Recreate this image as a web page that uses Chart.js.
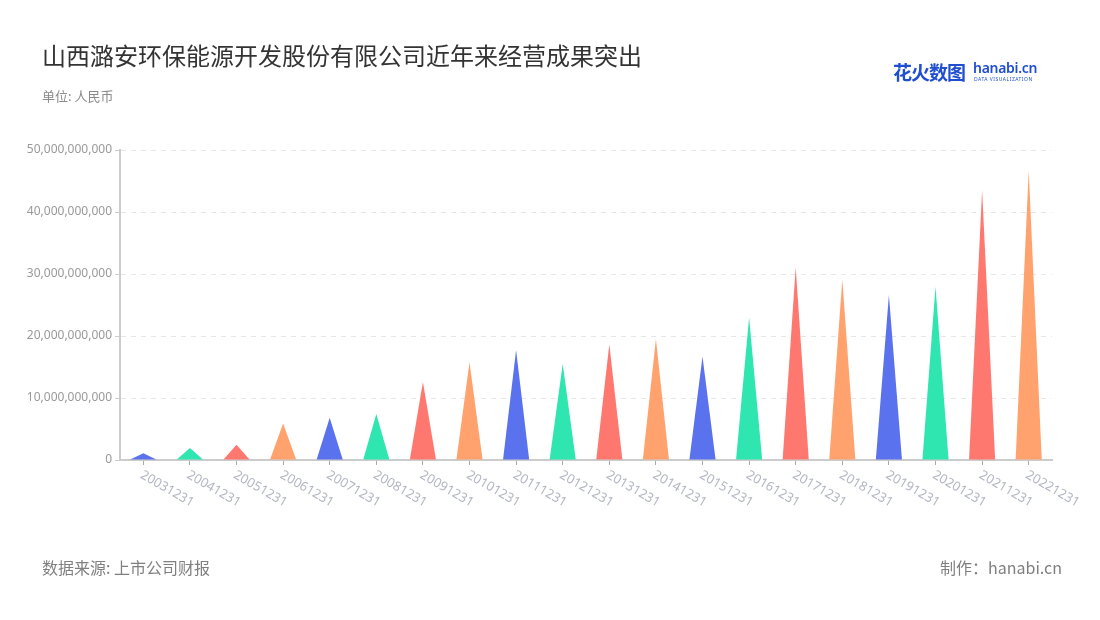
<!DOCTYPE html>
<html>
<head>
<meta charset="utf-8">
<script src="https://cdn.jsdelivr.net/npm/chart.js@4"></script>
<style>
  body { margin: 0; background: #fff; font-family: "Noto Sans CJK SC", "Noto Sans", sans-serif; }
  #wrap { position: relative; width: 1100px; height: 620px; overflow: hidden; }
  #chart { position: absolute; left: 0; top: 0; }
  .txt { position: absolute; white-space: nowrap; }
  #title { left: 42px; top: 37px; font-size: 24px; color: #333; }
  #unit { left: 42px; top: 86px; font-size: 13px; color: #8a8a8a; }
  #source { left: 42px; top: 555px; font-size: 16px; color: #7f7f7f; }
  #maker { right: 38px; top: 555px; font-size: 16px; color: #7f7f7f; }
  #logo { left: 893px; top: 58px; color: #1f4fd0; }
  #logo .cn { font-size: 19px; font-weight: bold; letter-spacing: -1px; }
  #logo .en { position: absolute; left: 80px; top: 1px; font-family: "Noto Sans", sans-serif; font-size: 14px; font-weight: 600; line-height: 17px; letter-spacing: -0.3px; }
  #logo .sub { position: absolute; left: 81px; top: 18px; font-family: "Noto Sans", sans-serif; font-size: 5px; letter-spacing: 0.5px; }
</style>
</head>
<body>
<div id="wrap">
  <canvas id="chart" width="1100" height="620"></canvas>
  <div class="txt" id="title">山西潞安环保能源开发股份有限公司近年来经营成果突出</div>
  <div class="txt" id="unit">单位: 人民币</div>
  <div class="txt" id="logo"><span class="cn">花火数图</span><span class="en">hanabi.cn</span><span class="sub">DATA VISUALIZATION</span></div>
  <div class="txt" id="source">数据来源: 上市公司财报</div>
  <div class="txt" id="maker">制作：hanabi.cn</div>
</div>
<script>
// 年份（报告期）
const categories = ["20031231", "20041231", "20051231", "20061231", "20071231", "20081231", "20091231",
  "20101231", "20111231", "20121231", "20131231", "20141231", "20151231", "20161231", "20171231",
  "20181231", "20191231", "20201231", "20211231", "20221231"];
// 数值（人民币）
const values = [1.08e9, 1.94e9, 2.47e9, 5.9e9, 6.83e9, 7.42e9, 12.6e9, 15.75e9, 17.7e9, 15.5e9,
  18.66e9, 19.5e9, 16.7e9, 23.0e9, 31.1e9, 29.1e9, 26.6e9, 27.95e9, 43.5e9, 46.7e9];
const yTicks = [0, 1e10, 2e10, 3e10, 4e10, 5e10];
const colors = ["#5A72EE", "#2FE6B0", "#FF7870", "#FFA26E"];

// 三角形を描くプラグイン（バーの位置を利用）
const trianglePlugin = {
  id: "triangles",
  afterDatasetsDraw(chart) {
    const ctx = chart.ctx;
    const meta = chart.getDatasetMeta(0);
    ctx.save();
    meta.data.forEach((bar, i) => {
      const p = bar.getProps(["x", "y", "base", "width"], true);
      ctx.beginPath();
      ctx.moveTo(p.x - p.width / 2, p.base);
      ctx.lineTo(p.x, p.y);
      ctx.lineTo(p.x + p.width / 2, p.base);
      ctx.closePath();
      ctx.fillStyle = colors[i % colors.length];
      ctx.fill();
    });
    ctx.restore();
  },
  afterDraw(chart) {
    // x軸ラベル（右下がりに回転）
    const ctx = chart.ctx;
    const xs = chart.scales.x;
    ctx.save();
    ctx.font = "13px 'Noto Sans', sans-serif";
    ctx.fillStyle = "#B3B7C3";
    ctx.textAlign = "left";
    ctx.textBaseline = "middle";
    categories.forEach((c, i) => {
      const x = xs.getPixelForTick(i);
      ctx.save();
      ctx.translate(x - 2, xs.top + 14);
      ctx.rotate(Math.PI / 6);
      ctx.fillText(c, 0, 0);
      ctx.restore();
    });
    ctx.restore();
  }
};

new Chart(document.getElementById("chart"), {
  type: "bar",
  data: {
    labels: categories,
    datasets: [{
      data: values,
      backgroundColor: "rgba(0,0,0,0)",
      barPercentage: 0.56,
      categoryPercentage: 1,
    }],
  },
  options: {
    responsive: false,
    animation: false,
    layout: { padding: { left: 0, right: 48, top: 150, bottom: 100 } },
    plugins: { legend: { display: false }, tooltip: { enabled: false } },
    scales: {
      x: {
        grid: { drawOnChartArea: false, drawTicks: true, tickLength: 5, tickColor: "#aaa", offset: false },
        border: { color: "#ccc", width: 2 },
        ticks: { callback: () => "", maxRotation: 0 },
        afterFit: (s) => { s.height = 60; },
      },
      y: {
        min: 0,
        max: 5e10,
        afterBuildTicks: (s) => { s.ticks = yTicks.map(v => ({ value: v })); },
        grid: { color: "#e6e6e6", lineWidth: 1, tickLength: 5, tickColor: "#ccc", tickBorderDash: [] },
        border: { color: "#ccc", width: 2, dash: [5, 5] },
        ticks: {
          color: "#999",
          padding: 3,
          font: { size: 12, family: "'Noto Sans', sans-serif" },
          callback: (v) => Number(v).toLocaleString("en-US"),
        },
        afterFit: (s) => { s.width = 120; },
      },
    },
  },
  plugins: [trianglePlugin],
});
</script>
</body>
</html>
